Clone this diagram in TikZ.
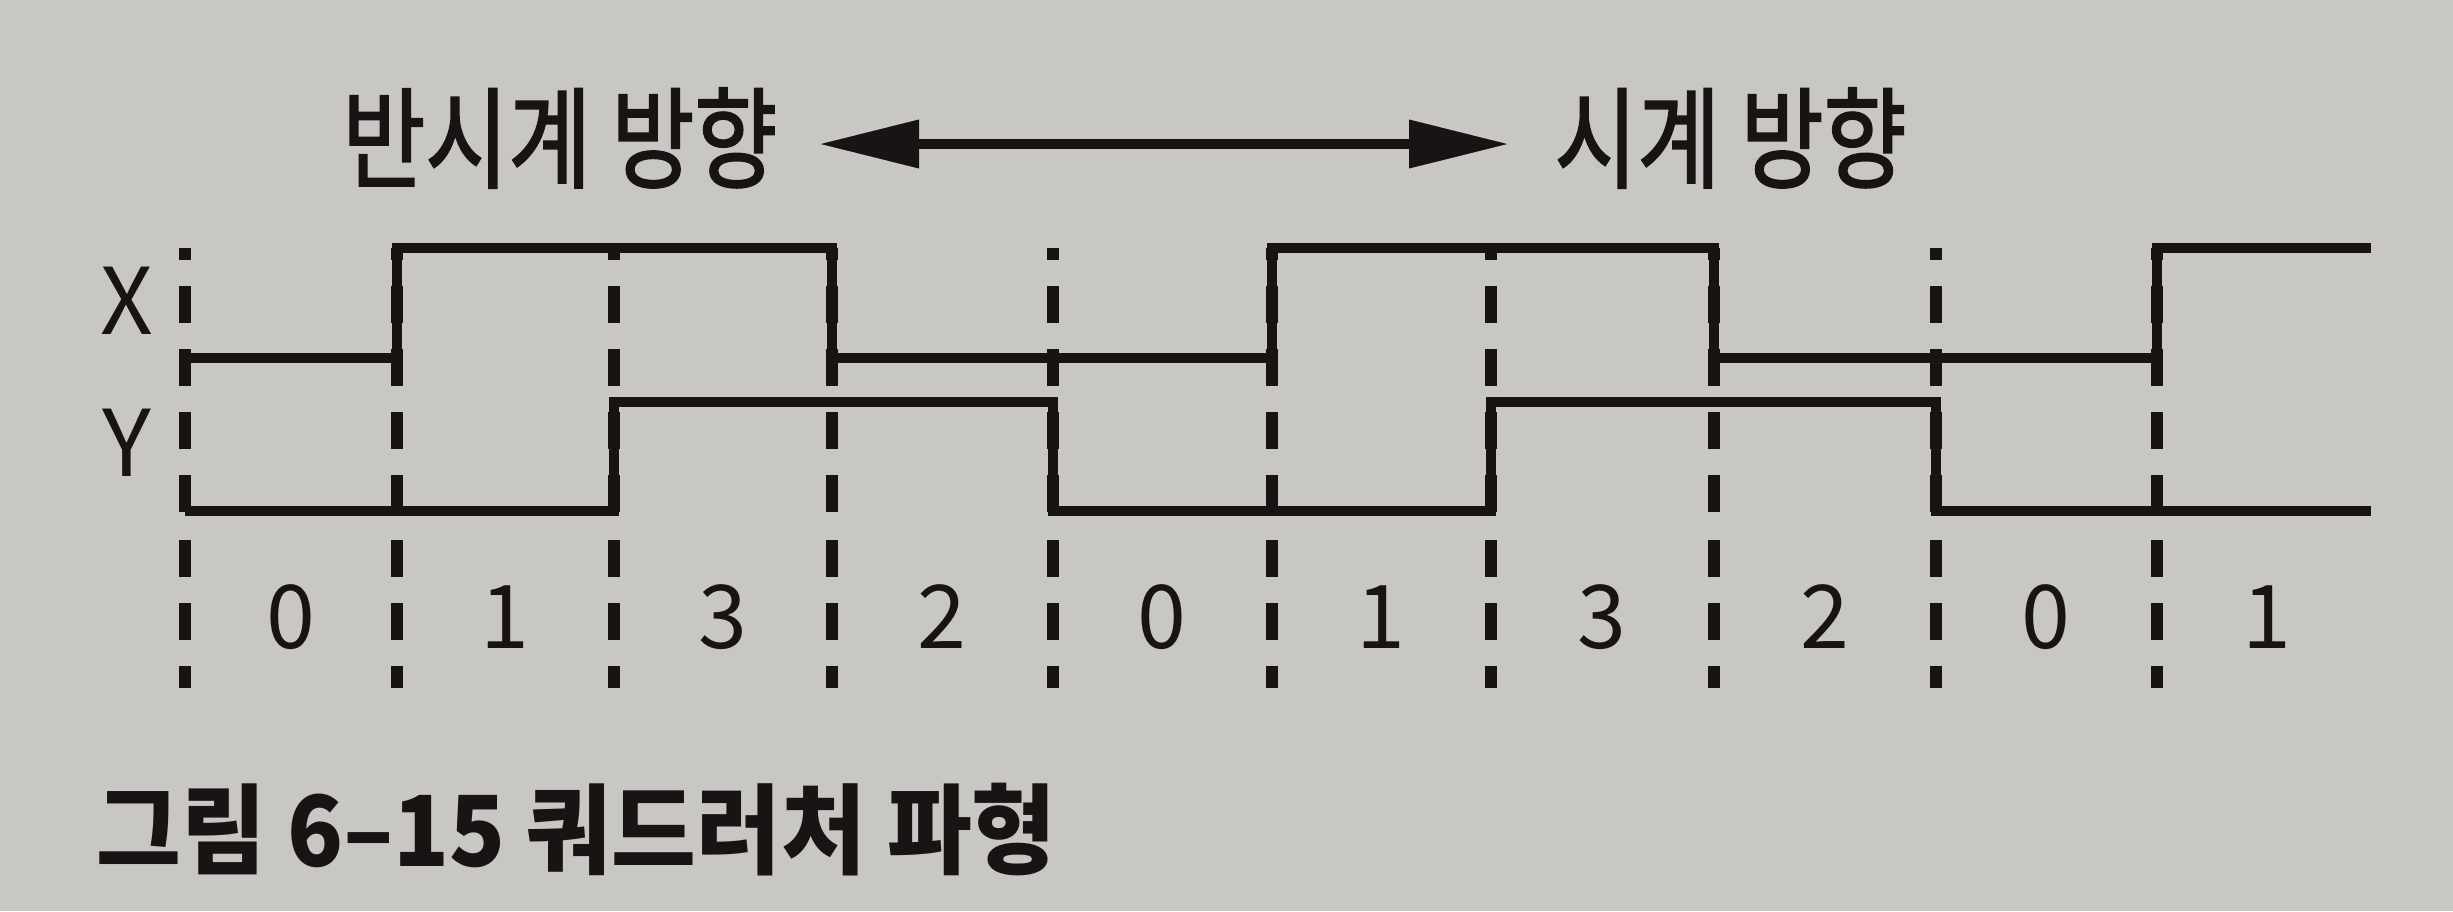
\documentclass[tikz,border=0pt]{standalone}
\usepackage{fontspec}
\usetikzlibrary{arrows.meta}
\newfontfamily\krtitle[FakeStretch=0.82,FakeBold=1.6]{Noto Sans CJK KR}
\newfontfamily\krcap[FakeStretch=0.94]{Noto Sans CJK KR}
\newfontfamily\lbfont{Noto Sans CJK KR}
\definecolor{paper}{RGB}{201,199,193}
\definecolor{ink}{RGB}{24,20,20}

\tikzset{every picture/.style={line width=0.75pt}}

\begin{document}
\begin{tikzpicture}[x=0.25pt,y=0.25pt,yscale=-1,xscale=1,
  wave/.style={draw=ink, line width=2.6pt, line join=miter},
  tick/.style={draw=ink, line width=3pt, dash pattern=on 9.25pt off 6.5pt},
  dirarrow/.style={draw=ink, line width=2.6pt, {Triangle[length=25pt,width=11.5pt]}-{Triangle[length=25pt,width=11.5pt]}},
  title/.style={text=ink, inner sep=0pt, font=\krtitle\fontsize{27.5}{31}\selectfont},
  sig/.style={text=ink, inner sep=0pt, font=\lbfont\fontsize{23}{26}\selectfont},
  state/.style={text=ink, inner sep=0pt, font=\lbfont\fontsize{22}{26}\selectfont}]
%set diagram to the size of the page
\useasboundingbox (0,0) rectangle (2453,911);
\fill [paper] (0,0) rectangle (2453,911);

% Text Node
\node [title, anchor=east] (ccw) at (779,138) {반시계 방향};
% Text Node
\node [title, anchor=west] (cw) at (1553,138) {시계 방향};
%Straight Lines
\draw [dirarrow, shorten <=10pt, shorten >=11pt] ([yshift=1.5pt]ccw.east) -- ([yshift=1.5pt]cw.west);

% Text Node
\node [sig] (lx) at (127,301) {X};
% Text Node
\node [sig] (ly) at (127,443) {Y};

%Dashed Lines
\draw [tick] (185,512) -- (185,248) (185,540) -- (185,688);
\draw [tick] (397,512) -- (397,248) (397,540) -- (397,688);
\draw [tick] (614,512) -- (614,248) (614,540) -- (614,688);
\draw [tick] (832,512) -- (832,248) (832,540) -- (832,688);
\draw [tick] (1053,512) -- (1053,248) (1053,540) -- (1053,688);
\draw [tick] (1272,512) -- (1272,248) (1272,540) -- (1272,688);
\draw [tick] (1491,512) -- (1491,248) (1491,540) -- (1491,688);
\draw [tick] (1714,512) -- (1714,248) (1714,540) -- (1714,688);
\draw [tick] (1936,512) -- (1936,248) (1936,540) -- (1936,688);
\draw [tick] (2157,512) -- (2157,248) (2157,540) -- (2157,688);

%Shape: X waveform
\draw [wave] (185,358) -- (397,358) -- (397,248) -- (832,248) -- (832,358) -- (1272,358) -- (1272,248) -- (1714,248) -- (1714,358) -- (2157,358) -- (2157,248) -- (2371,248);
%Shape: Y waveform
\draw [wave] (185,511) -- (614,511) -- (614,402) -- (1053,402) -- (1053,511) -- (1491,511) -- (1491,402) -- (1936,402) -- (1936,511) -- (2371,511);

% Text Node
\node [state] (s1) at (291,617) {0};
\node [state] (s2) at (505,617) {1};
\node [state] (s3) at (723,617) {3};
\node [state] (s4) at (942,617) {2};
\node [state] (s5) at (1162,617) {0};
\node [state] (s6) at (1381,617) {1};
\node [state] (s7) at (1602,617) {3};
\node [state] (s8) at (1825,617) {2};
\node [state] (s9) at (2046,617) {0};
\node [state] (s10) at (2267,617) {1};

% Text Node
\node [anchor=west, inner sep=0pt, text=ink, font=\krcap\bfseries\fontsize{24.5}{28}\selectfont] (cap) at (95,830) {그림 6–15 쿼드러처 파형};

\end{tikzpicture}
\end{document}
